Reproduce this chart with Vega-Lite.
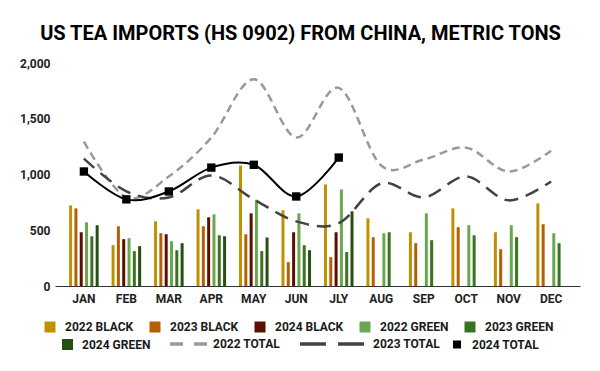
{
  "$schema": "https://vega.github.io/schema/vega-lite/v6.json",
  "width": 525,
  "height": 223,
  "autosize": {"type": "none"},
  "padding": {"left": 55, "top": 63, "right": 20, "bottom": 85},
  "config": {"font": "Roboto", "view": {"stroke": null}},
  "title": {"text": "US TEA IMPORTS (HS 0902) FROM CHINA, METRIC TONS", "font": "Roboto", "fontSize": 20, "fontWeight": "bold", "color": "#000000", "anchor": "middle", "frame": "group", "dx": -17, "offset": 13},
  "datasets": {
    "bars": [
      {"month": "JAN", "series": "2022 BLACK", "value": 723},
      {"month": "JAN", "series": "2023 BLACK", "value": 696},
      {"month": "JAN", "series": "2024 BLACK", "value": 482},
      {"month": "JAN", "series": "2022 GREEN", "value": 571},
      {"month": "JAN", "series": "2023 GREEN", "value": 446},
      {"month": "JAN", "series": "2024 GREEN", "value": 545},
      {"month": "FEB", "series": "2022 BLACK", "value": 366},
      {"month": "FEB", "series": "2023 BLACK", "value": 536},
      {"month": "FEB", "series": "2024 BLACK", "value": 420},
      {"month": "FEB", "series": "2022 GREEN", "value": 429},
      {"month": "FEB", "series": "2023 GREEN", "value": 313},
      {"month": "FEB", "series": "2024 GREEN", "value": 357},
      {"month": "MAR", "series": "2022 BLACK", "value": 580},
      {"month": "MAR", "series": "2023 BLACK", "value": 473},
      {"month": "MAR", "series": "2024 BLACK", "value": 464},
      {"month": "MAR", "series": "2022 GREEN", "value": 402},
      {"month": "MAR", "series": "2023 GREEN", "value": 321},
      {"month": "MAR", "series": "2024 GREEN", "value": 384},
      {"month": "APR", "series": "2022 BLACK", "value": 688},
      {"month": "APR", "series": "2023 BLACK", "value": 536},
      {"month": "APR", "series": "2024 BLACK", "value": 616},
      {"month": "APR", "series": "2022 GREEN", "value": 643},
      {"month": "APR", "series": "2023 GREEN", "value": 455},
      {"month": "APR", "series": "2024 GREEN", "value": 446},
      {"month": "MAY", "series": "2022 BLACK", "value": 1080},
      {"month": "MAY", "series": "2023 BLACK", "value": 464},
      {"month": "MAY", "series": "2024 BLACK", "value": 652},
      {"month": "MAY", "series": "2022 GREEN", "value": 774},
      {"month": "MAY", "series": "2023 GREEN", "value": 313},
      {"month": "MAY", "series": "2024 GREEN", "value": 435},
      {"month": "JUN", "series": "2022 BLACK", "value": 679},
      {"month": "JUN", "series": "2023 BLACK", "value": 214},
      {"month": "JUN", "series": "2024 BLACK", "value": 482},
      {"month": "JUN", "series": "2022 GREEN", "value": 652},
      {"month": "JUN", "series": "2023 GREEN", "value": 366},
      {"month": "JUN", "series": "2024 GREEN", "value": 321},
      {"month": "JLY", "series": "2022 BLACK", "value": 911},
      {"month": "JLY", "series": "2023 BLACK", "value": 259},
      {"month": "JLY", "series": "2024 BLACK", "value": 482},
      {"month": "JLY", "series": "2022 GREEN", "value": 866},
      {"month": "JLY", "series": "2023 GREEN", "value": 304},
      {"month": "JLY", "series": "2024 GREEN", "value": 670},
      {"month": "AUG", "series": "2022 BLACK", "value": 607},
      {"month": "AUG", "series": "2023 BLACK", "value": 438},
      {"month": "AUG", "series": "2022 GREEN", "value": 473},
      {"month": "AUG", "series": "2023 GREEN", "value": 482},
      {"month": "SEP", "series": "2022 BLACK", "value": 482},
      {"month": "SEP", "series": "2023 BLACK", "value": 384},
      {"month": "SEP", "series": "2022 GREEN", "value": 652},
      {"month": "SEP", "series": "2023 GREEN", "value": 411},
      {"month": "OCT", "series": "2022 BLACK", "value": 696},
      {"month": "OCT", "series": "2023 BLACK", "value": 527},
      {"month": "OCT", "series": "2022 GREEN", "value": 545},
      {"month": "OCT", "series": "2023 GREEN", "value": 455},
      {"month": "NOV", "series": "2022 BLACK", "value": 482},
      {"month": "NOV", "series": "2023 BLACK", "value": 330},
      {"month": "NOV", "series": "2022 GREEN", "value": 545},
      {"month": "NOV", "series": "2023 GREEN", "value": 438},
      {"month": "DEC", "series": "2022 BLACK", "value": 741},
      {"month": "DEC", "series": "2023 BLACK", "value": 554},
      {"month": "DEC", "series": "2022 GREEN", "value": 473},
      {"month": "DEC", "series": "2023 GREEN", "value": 384}
    ],
    "totals": [
      {"month": "JAN", "series": "2022 TOTAL", "value": 1294},
      {"month": "FEB", "series": "2022 TOTAL", "value": 795},
      {"month": "MAR", "series": "2022 TOTAL", "value": 982},
      {"month": "APR", "series": "2022 TOTAL", "value": 1331},
      {"month": "MAY", "series": "2022 TOTAL", "value": 1854},
      {"month": "JUN", "series": "2022 TOTAL", "value": 1331},
      {"month": "JLY", "series": "2022 TOTAL", "value": 1777},
      {"month": "AUG", "series": "2022 TOTAL", "value": 1080},
      {"month": "SEP", "series": "2022 TOTAL", "value": 1134},
      {"month": "OCT", "series": "2022 TOTAL", "value": 1241},
      {"month": "NOV", "series": "2022 TOTAL", "value": 1027},
      {"month": "DEC", "series": "2022 TOTAL", "value": 1214},
      {"month": "JAN", "series": "2023 TOTAL", "value": 1142},
      {"month": "FEB", "series": "2023 TOTAL", "value": 849},
      {"month": "MAR", "series": "2023 TOTAL", "value": 794},
      {"month": "APR", "series": "2023 TOTAL", "value": 991},
      {"month": "MAY", "series": "2023 TOTAL", "value": 777},
      {"month": "JUN", "series": "2023 TOTAL", "value": 580},
      {"month": "JLY", "series": "2023 TOTAL", "value": 563},
      {"month": "AUG", "series": "2023 TOTAL", "value": 920},
      {"month": "SEP", "series": "2023 TOTAL", "value": 795},
      {"month": "OCT", "series": "2023 TOTAL", "value": 982},
      {"month": "NOV", "series": "2023 TOTAL", "value": 768},
      {"month": "DEC", "series": "2023 TOTAL", "value": 938},
      {"month": "JAN", "series": "2024 TOTAL", "value": 1027},
      {"month": "FEB", "series": "2024 TOTAL", "value": 777},
      {"month": "MAR", "series": "2024 TOTAL", "value": 848},
      {"month": "APR", "series": "2024 TOTAL", "value": 1062},
      {"month": "MAY", "series": "2024 TOTAL", "value": 1087},
      {"month": "JUN", "series": "2024 TOTAL", "value": 803},
      {"month": "JLY", "series": "2024 TOTAL", "value": 1152}
    ]
  },
  "encoding": {
    "x": {
      "field": "month", "type": "nominal", "title": null,
      "scale": {"domain": ["JAN","FEB","MAR","APR","MAY","JUN","JLY","AUG","SEP","OCT","NOV","DEC"], "paddingInner": 0.3, "paddingOuter": 0.33},
      "axis": {"labelAngle": 0, "ticks": false, "domainColor": "#333333", "domainWidth": 1, "labelFont": "Roboto", "labelFontSize": 12, "labelFontWeight": "bold", "labelColor": "#222222", "labelPadding": 7}
    },
    "y": {
      "field": "value", "type": "quantitative", "title": null,
      "scale": {"domain": [0, 2000], "nice": false},
      "axis": {"values": [0, 500, 1000, 1500, 2000], "format": ",d", "grid": false, "domain": false, "ticks": false, "labelFont": "Roboto", "labelFontSize": 12, "labelFontWeight": "bold", "labelColor": "#222222", "labelPadding": 5}
    }
  },
  "layer": [
    {
      "data": {"name": "bars"},
      "transform": [{"filter": "datum.series == '2024 GREEN'"}],
      "mark": {"type": "bar", "width": 3},
      "encoding": {
        "xOffset": {"field": "series", "type": "nominal", "scale": {"domain": ["2022 BLACK","2023 BLACK","2024 BLACK","2022 GREEN","2023 GREEN","2024 GREEN"], "paddingInner": 0.4}},
        "color": {
          "field": "series", "type": "nominal",
          "scale": {
            "domain": ["2024 GREEN","2022 TOTAL","2023 TOTAL","2024 TOTAL"],
            "range": ["#274e13","#999999","#434343","#000000"]
          },
          "legend": {
            "title": null, "orient": "none", "legendX": 7, "legendY": 275,
            "direction": "horizontal", "columns": 4, "columnPadding": 12,
            "symbolSize": 121, "symbolType": "square", "labelOffset": 9,
            "labelFont": "Roboto", "labelFontSize": 12, "labelFontWeight": "bold", "labelColor": "#1a1a1a", "labelLimit": 200,
            "encode": {
              "symbols": {"update": {
                "shape": {"signal": "datum.value == '2022 TOTAL' || datum.value == '2023 TOTAL' ? 'stroke' : 'square'"},
                "size": {"signal": "datum.value == '2022 TOTAL' ? 1369 : datum.value == '2023 TOTAL' ? 4096 : datum.value == '2024 TOTAL' ? 64 : 121"},
                "x": {"signal": "datum.value == '2022 TOTAL' ? 18.5 : datum.value == '2023 TOTAL' ? 32 : datum.value == '2024 TOTAL' ? 4 : 5.5"},
                "stroke": {"scale": "color", "field": "value"},
                "strokeWidth": {"signal": "datum.value == '2022 TOTAL' || datum.value == '2023 TOTAL' ? 3.5 : 0"},
                "strokeDash": {"signal": "datum.value == '2022 TOTAL' ? [13, 11] : datum.value == '2023 TOTAL' ? [26, 12] : [1, 0]"},
                "opacity": {"value": 1}
              }},
              "labels": {"update": {
                "x": {"signal": "datum.value == '2022 TOTAL' ? 43 : datum.value == '2023 TOTAL' ? 73 : datum.value == '2024 TOTAL' ? 19 : 20"}
              }}
            }
          }
        }
      }
    },
    {
      "data": {"name": "bars"},
      "transform": [{"filter": "datum.series != '2024 GREEN'"}],
      "mark": {"type": "bar", "width": 3},
      "encoding": {
        "xOffset": {"field": "series", "type": "nominal"},
        "fill": {
          "field": "series", "type": "nominal",
          "scale": {
            "domain": ["2022 BLACK","2023 BLACK","2024 BLACK","2022 GREEN","2023 GREEN"],
            "range": ["#bf9000","#b45f06","#5b0f00","#6aa84f","#38761d"]
          },
          "legend": {
            "title": null, "orient": "none", "legendX": -11, "legendY": 258,
            "direction": "horizontal", "columns": 5, "columnPadding": 15,
            "symbolSize": 121, "symbolType": "square", "labelOffset": 9, "symbolStrokeWidth": 0,
            "labelFont": "Roboto", "labelFontSize": 12, "labelFontWeight": "bold", "labelColor": "#1a1a1a", "labelLimit": 200
          }
        }
      }
    },
    {
      "data": {"name": "totals"},
      "transform": [{"filter": "datum.series == '2022 TOTAL'"}],
      "mark": {"type": "line", "interpolate": "cardinal", "strokeWidth": 2.5, "strokeDash": [8, 5]},
      "encoding": {"color": {"field": "series", "type": "nominal"}}
    },
    {
      "data": {"name": "totals"},
      "transform": [{"filter": "datum.series == '2023 TOTAL'"}],
      "mark": {"type": "line", "interpolate": "cardinal", "strokeWidth": 2.5, "strokeDash": [14, 8]},
      "encoding": {"color": {"field": "series", "type": "nominal"}}
    },
    {
      "data": {"name": "totals"},
      "transform": [{"filter": "datum.series == '2024 TOTAL'"}],
      "mark": {"type": "line", "interpolate": "cardinal", "strokeWidth": 2},
      "encoding": {"color": {"field": "series", "type": "nominal"}}
    },
    {
      "data": {"name": "totals"},
      "transform": [{"filter": "datum.series == '2024 TOTAL'"}],
      "mark": {"type": "point", "shape": "square", "filled": true, "size": 70, "opacity": 1},
      "encoding": {"color": {"field": "series", "type": "nominal"}}
    }
  ]
}
